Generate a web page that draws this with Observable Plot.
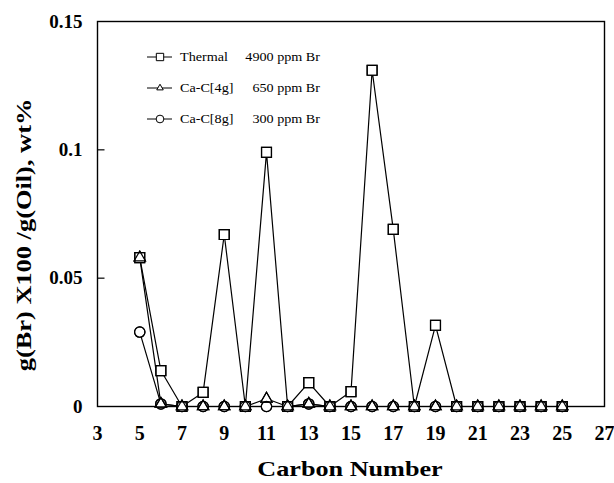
<!DOCTYPE html>
<html><head><meta charset="utf-8">
<script src="https://cdn.jsdelivr.net/npm/d3@7"></script>
<script src="https://cdn.jsdelivr.net/npm/@observablehq/plot@0.6"></script>
<style>body{margin:0;background:#fff}#chart{width:614px;height:483px}</style>
</head><body><div id="chart"></div>
<script>
const carbonNumbers = [5,6,7,8,9,10,11,12,13,14,15,16,17,18,19,20,21,22,23,24,25];
const thermal = [0.058,0.014,0,0.0055,0.067,0,0.099,0,0.0093,0,0.0058,0.131,0.069,0,0.0316,0,0,0,0,0,0];
const caC4g   = [0.058,0.001,0,0,0,0,0.003,0,0.001,0,0,0,0,0,0,0,0,0,0,0,0];
const caC8g   = [0.029,0.001,0,0,0,0,0,0,0.001,0,0,0,0,0,0,0,0,0,0,0,0];
const seriesNames = ["Thermal","Ca-C[4g]","Ca-C[8g]"];
const seriesBr = ["4900 ppm Br","650 ppm Br","300 ppm Br"];
const seriesSymbols = ["square","triangle","circle"];
const xTicks = [3,5,7,9,11,13,15,17,19,21,23,25,27];
const yTicks = [0,0.05,0.1,0.15];
const yTickLabels = ["0","0.05","0.1","0.15"];
const xTitle = "Carbon Number";
const yTitle = "g(Br) X100 /g(Oil), wt%";

const serif = "'Liberation Serif','Times New Roman',serif";
const seriesValues = [thermal, caC4g, caC8g];
const rows = seriesValues.flatMap((vals, s) => carbonNumbers.map((c, i) => ({series: seriesNames[s], symbol: seriesSymbols[s], x: c, y: vals[i]})));
const symR = {square: 5.6, triangle: 4.2, circle: 5.2};
const tickSym = {draw(ctx){ctx.moveTo(0,0);ctx.lineTo(7,0);}};

const d3Sym = {square: d3.symbolSquare, triangle: d3.symbolTriangle2 || d3.symbolTriangle, circle: d3.symbolCircle};
function legend(index, scales, values, dims) {
  const g = d3.create("svg:g").attr("font-family", serif).attr("font-size", 12).attr("fill", "black").attr("text-anchor", "start");
  const x0 = dims.marginLeft + 50, y0 = dims.marginTop + 36;
  seriesNames.forEach((name, i) => {
    const y = y0 + i * 31;
    g.append("line").attr("x1", x0).attr("x2", x0 + 25).attr("y1", y).attr("y2", y).attr("stroke", "black").attr("stroke-width", 1);
    const r = symR[seriesSymbols[i]];
    g.append("path").attr("transform", `translate(${x0 + 13},${y})`)
      .attr("d", d3.symbol(d3Sym[seriesSymbols[i]], Math.PI * r * r * 0.55)())
      .attr("fill", "white").attr("stroke", "black").attr("stroke-width", 1);
    g.append("text").attr("transform", `translate(${x0 + 33},${y}) scale(1.18,1)`).attr("dy", "0.35em").text(name);
    g.append("text").attr("transform", `translate(${x0 + 173},${y}) scale(1.18,1)`).attr("dy", "0.35em").attr("text-anchor", "end").text(seriesBr[i]);
  });
  return g.node();
}
function titles(index, scales, values, dims) {
  const g = d3.create("svg:g").attr("font-family", serif).attr("font-weight", "bold").attr("fill", "black").attr("text-anchor", "middle");
  g.append("text").attr("transform", `translate(${dims.marginLeft + 253},${dims.height - 7}) scale(1.19,1)`).attr("font-size", 22).text(xTitle);
  g.append("text").attr("transform", `translate(24,${dims.marginTop + 214}) rotate(-90) scale(1.32,1)`).attr("dy", "0.35em").attr("font-size", 20).text(yTitle);
  return g.node();
}

const dotOpts = (sym, fill) => ({x: "x", y: "y", symbol: "symbol", r: symR[sym], fill, stroke: "black", strokeWidth: 1.2});

const chart = Plot.plot({
  width: 614, height: 483,
  marginLeft: 97, marginRight: 10, marginTop: 21, marginBottom: 77,
  style: {fontFamily: serif, background: "white", color: "black"},
  x: {domain: [3, 27], axis: null},
  y: {domain: [0, 0.15], axis: null},
  symbol: {domain: seriesSymbols, range: seriesSymbols},
  marks: [
    Plot.frame({stroke: "black", strokeWidth: 1.4}),
    Plot.dot(yTicks.slice(1, -1), {y: d => d, frameAnchor: "left", symbol: tickSym, stroke: "black", strokeWidth: 1.2}),
    Plot.line(rows, {x: "x", y: "y", z: "series", stroke: "black", strokeWidth: 1.2}),
    ...seriesSymbols.slice().reverse().map(sym => Plot.dot(rows.filter(d => d.symbol === sym), dotOpts(sym, "white"))),
    ...seriesSymbols.map(sym => Plot.dot(rows.filter(d => d.symbol === sym), dotOpts(sym, "none"))),
    Plot.text(xTicks, {x: d => d, frameAnchor: "bottom", dy: 33, text: d => String(d), fontSize: 20, fontWeight: "bold", fill: "black"}),
    Plot.text(yTicks, {y: d => d, frameAnchor: "left", dx: -15, textAnchor: "end", text: (d, i) => yTickLabels[i], fontSize: 19, fontWeight: "bold", fill: "black"}),
    titles,
    legend
  ]
});
document.getElementById("chart").append(chart);
</script></body></html>
